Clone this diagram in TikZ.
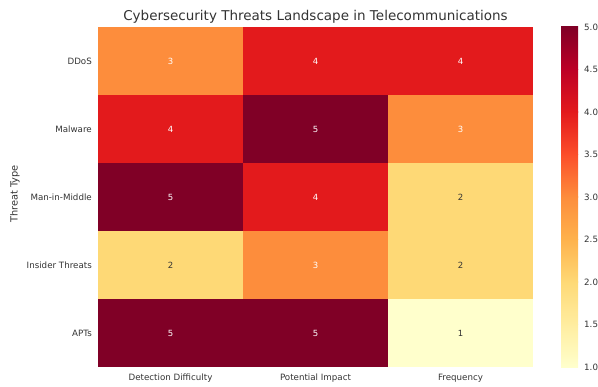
\documentclass[tikz,border=0pt]{standalone}
\usepackage{fontspec}
\setmainfont{DejaVu Sans}
% YlOrRd colour map
\definecolor{yl1}{HTML}{FFFFCC}
\definecolor{yl2}{HTML}{FFEDA0}
\definecolor{yl3}{HTML}{FED976}
\definecolor{yl4}{HTML}{FEB24C}
\definecolor{yl5}{HTML}{FD8D3C}
\definecolor{yl6}{HTML}{FC4E2A}
\definecolor{yl7}{HTML}{E31A1C}
\definecolor{yl8}{HTML}{BD0026}
\definecolor{yl9}{HTML}{800026}
\colorlet{v1}{yl1}\colorlet{v2}{yl3}\colorlet{v3}{yl5}\colorlet{v4}{yl7}\colorlet{v5}{yl9}
\definecolor{ink}{HTML}{333333}
\colorlet{tc1}{ink}\colorlet{tc2}{ink}\colorlet{tc3}{white}\colorlet{tc4}{white}\colorlet{tc5}{white}
\tikzset{
  cell/.style={minimum width=145pt,minimum height=68pt,inner sep=0pt,font=\fontsize{8.5}{10}\selectfont},
  ticklbl/.style={text=ink,inner sep=0pt,font=\fontsize{8.7}{10}\selectfont},
}
\begin{document}
\begin{tikzpicture}[x=1pt,y=-1pt]
\useasboundingbox (0,0) rectangle (598,387);
\node[text=ink,font=\fontsize{13.5}{16}\selectfont] (title) at (315.5,17) {Cybersecurity Threats Landscape in Telecommunications};
% cells
\foreach \name/\a/\b/\c [count=\r from 0] in {DDoS/3/4/4,Malware/4/5/3,Man-in-Middle/5/4/2,Insider Threats/2/3/2,APTs/5/5/1}{
  \node[ticklbl,anchor=east] (row\r) at (92,61+68*\r) {\name};
  \foreach \v [count=\k from 0] in {\a,\b,\c}
    \node[cell,fill=v\v,text=tc\v] (c\r\k) at (170.5+145*\k,61+68*\r) {\v};
}
\foreach \name [count=\k from 0] in {Detection Difficulty,Potential Impact,Frequency}
  \node[ticklbl] (col\k) at (170.5+145*\k,378) {\name};
\node[ticklbl,rotate=90,font=\fontsize{9.8}{11}\selectfont] (ylabel) at (15,194) {Threat Type};
% colour bar
\foreach \k [evaluate=\k as \kk using int(\k+1)] in {1,...,8}
  \shade[bottom color=yl\k,top color=yl\kk] (561,367.3-42.5*\k+42.5) rectangle (578,366.7-42.5*\k);
\foreach \t [count=\i from 0] in {1.0,1.5,2.0,2.5,3.0,3.5,4.0,4.5,5.0}
  \node[ticklbl,anchor=west] (tick\i) at (584,367-42.5*\i) {\t};
\end{tikzpicture}
\end{document}
